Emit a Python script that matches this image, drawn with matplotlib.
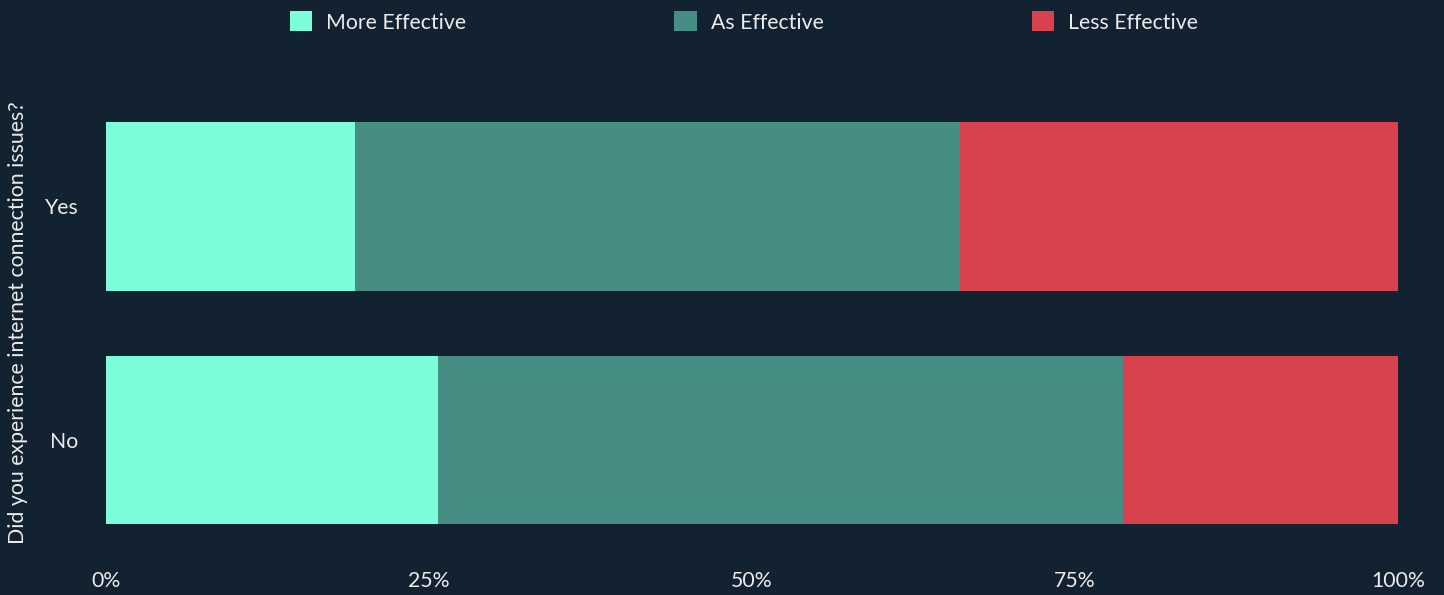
import matplotlib.pyplot as plt

categories = ["No", "Yes"]
more_eff = [25.7, 19.3]
as_eff = [53.0, 46.8]
less_eff = [21.3, 33.9]
series_names = ["More Effective", "As Effective", "Less Effective"]
colors = ["#7dfcd9", "#468d83", "#d8414e"]
ticks = [0, 25, 50, 75, 100]
tick_labels = ["0%", "25%", "50%", "75%", "100%"]

bg = "#132231"
fg = "#ececec"
fs = 15.3

plt.rcParams['font.family'] = ['Lato', 'DejaVu Sans']

fig = plt.figure(figsize=(14.44, 5.95), dpi=100, facecolor=bg)
W, H = 1444, 595
ax = fig.add_axes([106 / W, 1 - 556.75 / H, (1398 - 106) / W, (556.75 - 89.75) / H])
ax.set_facecolor(bg)

left = [0, 0]
for name, vals, c in zip(series_names, [more_eff, as_eff, less_eff], colors):
    ax.barh(categories, vals, left=left, height=0.72, color=c, label=name)
    left = [l + v for l, v in zip(left, vals)]

ax.set_xlim(0, 100)
ax.set_ylim(-0.5, 1.5)
ax.set_xticks(ticks)
ax.set_xticklabels(tick_labels)
for s in ax.spines.values():
    s.set_visible(False)
ax.tick_params(axis='both', length=0, colors=fg, labelsize=fs)
ax.tick_params(axis='y', pad=20)
ax.tick_params(axis='x', pad=10)

fig.text(18 / W, 1 - 323 / H, "Did you experience internet connection issues?",
         rotation=90, ha='center', va='center', color=fg, fontsize=fs)

leg = ax.legend(loc='center', bbox_to_anchor=(744 / W, 1 - 22 / H), bbox_transform=fig.transFigure,
                ncol=3, frameon=False, fontsize=fs, handlelength=1.05, handleheight=1.05,
                handletextpad=0.66, columnspacing=9.8)
for t in leg.get_texts():
    t.set_color(fg)

fig.savefig("out.png", dpi=100, facecolor=bg)
